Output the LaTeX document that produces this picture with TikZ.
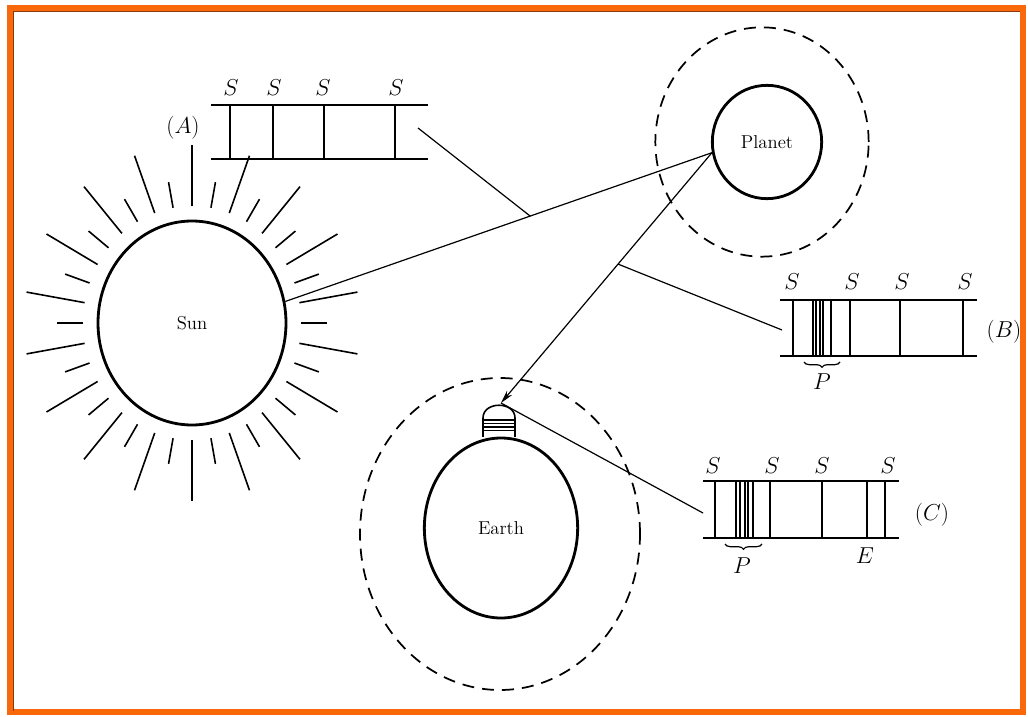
\documentclass[tikz,border=0pt]{standalone}
\usetikzlibrary{arrows.meta,calc,decorations.pathreplacing,shapes.geometric}

\definecolor{frameorange}{RGB}{250,104,12}
\definecolor{framedark}{RGB}{140,58,12}

\tikzset{
  body/.style={draw, ellipse, line width=2.1pt, inner sep=0pt,
    font=\fontsize{14}{16}\selectfont},
  orbit/.style={draw, ellipse, line width=1.3pt, dash pattern=on 9pt off 6pt},
  ray/.style={line width=1.2pt},
  beam/.style={line width=0.9pt},
  band/.style={line width=1.5pt},
  sym/.style={font=\fontsize{16}{18}\selectfont},
  bracebelow/.style={decorate, decoration={brace, mirror, amplitude=4pt}, line width=0.9pt}
}

\begin{document}
\begin{tikzpicture}[x=0.75pt,y=-0.75pt]
  \useasboundingbox (0,0) rectangle (1028,717);
  % frame
  \draw[frameorange, line width=4.5pt] (10,8) rectangle (1023,712);
  \draw[framedark, line width=0.8pt] (13.5,711) -- (13.5,11.5) -- (1020,11.5);

  % bodies
  \node[body, minimum width=141pt, minimum height=153pt] (sun) at (192,323) {Sun};
  \node[body, minimum width=82pt, minimum height=85pt] (planet) at (767,142) {Planet};
  \node[orbit, minimum width=160pt, minimum height=172pt] (planetorbit) at (762,142) {};
  \node[body, minimum width=115pt, minimum height=135pt] (earth) at (501,528) {Earth};
  \node[orbit, minimum width=210pt, minimum height=234pt] (earthorbit) at (500,534) {};

  % rays of the sun, long and short in turn
  \foreach \a in {90,110,...,430}
    \draw[ray] ($(sun.center)+({109*cos(\a)},{117*sin(\a)})$) -- ($(sun.center)+({168*cos(\a)},{178*sin(\a)})$);
  \foreach \a in {80,100,...,420}
    \draw[ray] ($(sun.center)+({109*cos(\a)},{117*sin(\a)})$) -- ($(sun.center)+({135*cos(\a)},{143*sin(\a)})$);

  % observatory on the earth
  \draw[line width=1.2pt, fill=white] (483,418) .. controls (483,401) and (515,401) .. (515,418);
  \draw[line width=1.2pt] (483,418) -- (483,437) (515,418) -- (515,437);
  \foreach \y in {420,423.5,427,430.5}
    \draw[line width=1pt] (483,\y) -- (515,\y);
  \coordinate (dome) at (501,403);

  % spectrum (A)
  \draw[band] (211,105) -- (428,105) (211,159) -- (428,159);
  \foreach \x/\w in {230/1.5,273/1.5,324/1.2,395/0.9}
    \draw[line width=\w pt] (\x,105) -- (\x,159);
  \foreach \x in {231,274,323,396}
    \node[sym] at (\x,88) {$S$};
  \node[sym] (labA) at (183,128) {$(A)$};
  \coordinate (specA) at (418,128);

  % spectrum (B)
  \draw[band] (780,300) -- (977,300) (780,356) -- (977,356);
  \foreach \x in {793,813,816,820,823,831,850,900,963}
    \draw[line width=1.1pt] (\x,300) -- (\x,356);
  \foreach \x in {792,852,902,965}
    \node[sym] at (\x,282) {$S$};
  \node[sym] (labB) at (1004,332) {$(B)$};
  \draw[bracebelow] (804,362) -- (840,362);
  \node[sym] at (822,382) {$P$};
  \coordinate (specB) at (782,330);

  % spectrum (C)
  \draw[band] (703,481) -- (899,481) (703,538) -- (899,538);
  \foreach \x/\w in {715/1.1,736/1.1,740/1.1,745/1.1,748/1.1,753/1.3,770/1.3,822/1.1,867/2,885/1.3}
    \draw[line width=\w pt] (\x,481) -- (\x,538);
  \foreach \x in {713,772,822,888}
    \node[sym] at (\x,466) {$S$};
  \node[sym] (labC) at (932,515) {$(C)$};
  \node[sym] at (865,556) {$E$};
  \draw[bracebelow] (725,544) -- (762,544);
  \node[sym] at (742,566) {$P$};
  \coordinate (specC) at (703,513);

  % light paths
  \draw[beam] (sun.13) -- (planet.191);
  \draw[beam, -{Stealth[length=10pt,width=5pt]}] (planet.191) -- (dome);
  \draw[beam] (specA) -- ($(sun.13)!0.574!(planet.191)$);
  \draw[beam] (specB) -- ($(planet.191)!0.445!(dome)$);
  \draw[beam] (specC) -- (dome);
\end{tikzpicture}
\end{document}
